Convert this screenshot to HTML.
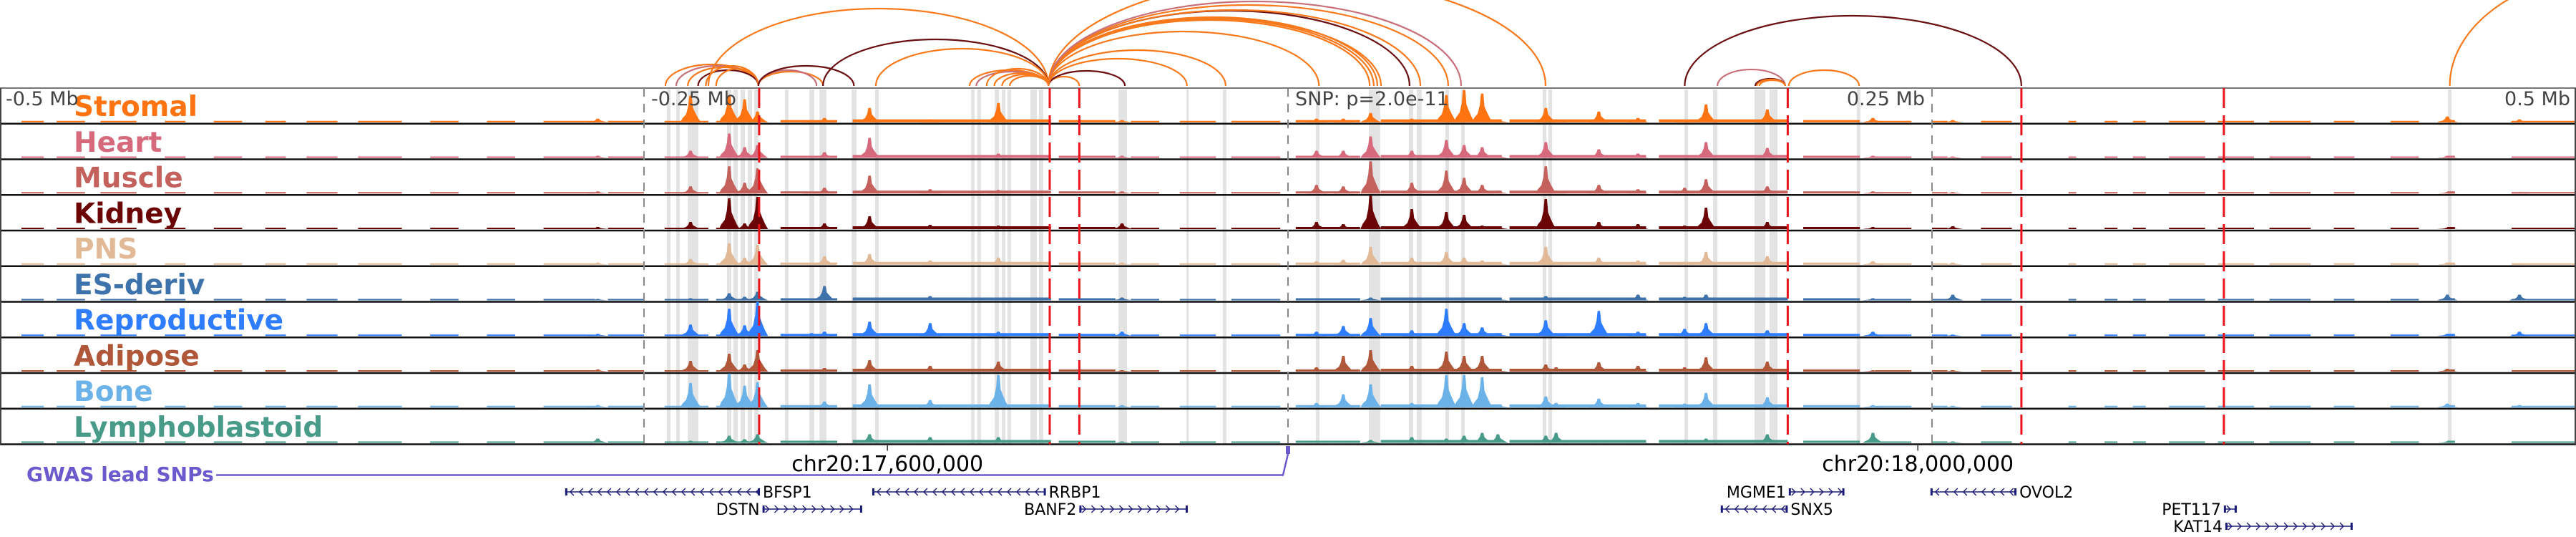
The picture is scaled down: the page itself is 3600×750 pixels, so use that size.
<!DOCTYPE html>
<html><head><meta charset="utf-8">
<style>
html,body{margin:0;padding:0;background:#fff;}
svg{display:block;font-family:"DejaVu Sans","Liberation Sans",sans-serif;}
</style></head>
<body>
<svg id="chart" width="3600" height="750" viewBox="0 0 3600 750" xmlns="http://www.w3.org/2000/svg">
  <g id="arcs"></g>
  <g id="bands"></g>
  <g id="tracks"></g>
  <g id="vlines"></g>
  <g id="axis"></g>
  <g id="genes"></g>
</svg>
<script>
// ---- data (positions in kb relative to lead SNP) ----
const tissues = ["Stromal","Heart","Muscle","Kidney","PNS","ES-deriv","Reproductive","Adipose","Bone","Lymphoblastoid"];
const tissueColors = ["#ff7410","#d66a7c","#c4615c","#6b0505","#e2b996","#3d72aa","#2f7dff","#b0573a","#6bb2e8","#479b88"];
const peakPos = [-268,-232,-217,-211,-206,-185,-180,-162.5,-139,-112.5,-64.5,11,21.4,32,48,61.4,68.3,75.3,81.4,100,104,120.6,135.8,153.9,162.2,186,227,258,450,478];
const hStromal = [5,37,38,32,15,3,6,20,4,27,3,5,5,13,5,38,45,40,4,20,4,15,6,3,25,18,6,3,8,4];
const hHeart   = [3,10,34,15,18,3,8,28,4,6,3,10,10,30,10,25,18,15,4,22,4,12,6,3,22,14,3,2,3,2];
const hMuscle  = [3,10,38,15,35,2,8,25,6,5,3,12,10,45,15,32,22,12,4,38,4,12,6,8,20,10,3,2,2,2];
const hKidney  = [3,10,43,8,45,3,8,18,6,5,8,10,7,47,28,24,20,5,4,42,4,10,7,5,30,10,3,4,2,2];
const hPNS     = [3,8,30,10,28,2,12,15,6,10,3,5,7,25,10,18,10,6,4,25,4,10,6,4,18,12,5,3,3,2];
const hES      = [2,3,10,5,12,2,20,3,6,4,4,2,2,4,2,4,3,3,3,6,3,3,8,5,8,4,3,8,8,8];
const hRepro   = [3,16,38,15,48,4,6,20,18,6,6,6,14,25,8,38,18,12,4,22,4,35,6,10,18,8,6,2,3,6];
const hAdipose = [3,15,25,10,30,3,5,16,8,14,2,6,22,30,8,28,22,22,3,10,6,13,8,6,20,14,2,2,4,2];
const hBone    = [3,34,47,30,35,2,8,32,10,45,3,6,18,32,6,45,45,42,4,15,6,12,6,5,20,14,3,2,5,3];
const hLympho  = [6,3,10,5,12,2,3,12,8,8,2,3,2,4,8,6,10,14,12,10,14,4,3,4,6,12,14,2,2,2];
const heights = [hStromal,hHeart,hMuscle,hKidney,hPNS,hES,hRepro,hAdipose,hBone,hLympho];
const bgStart = [-491.7,-478,-461,-436,-417,-397,-381,-361,-333,-311,-289,-264,-242,-222,-197,-169,-89,-61,-42,-22,3,36,86,144,200,228,250,269,303,317,328,342,361,381,406,428,450,475];
const bgEnd   = [-483,-467,-447,-428,-406,-389,-369,-344,-322,-300,-269,-250,-225,-206,-175,-92,-67,-50,-28,-3,28,83,139,194,222,242,256,281,306,322,333,356,375,397,414,439,453,500];
const bgLevel = [1,1,1,1,1,1,1,1,1,1,1,1,1,1,2,3,2,1,1,1,2,3,3,3,2,1,1,1,1,1,1,1,1,1,1,1,2,1];
const bandStart = [-241.1,-237.5,-233,-217.8,-215.3,-212.5,-209.7,-207.2,-195.3,-185.8,-181.9,-169.4,-160.3,-123,-120.6,-113.9,-111.1,-108.9,-100,-96.7,-65.8,-39.4,-25.3,10.8,31.4,46.9,50,61.1,67.2,98.9,101.1,153.9,165,181.1,186.9,220.8,450.3];
const bandEnd   = [-239.7,-236.1,-228.9,-216.1,-213.6,-210.8,-208,-205.6,-193.9,-183.9,-179.2,-167.5,-158.9,-121.7,-119.2,-112.2,-109.7,-107.5,-97.5,-95,-62.5,-38.6,-23.9,12.2,35.8,48.6,51.9,62.5,68.6,100.3,102.5,155.3,166.7,185.3,190,222.2,451.7];
const redLines = [-205.3,-92.5,-81,194,284.7,363.3];
const grayLines = [-250,0,250];
const arcFrom  = [-241.7,-237.5,-233,-229,-226,-222,-205.6,-205.6,-205.6,-225,-180.5,-160,-123.6,-121,-117,-114,-111,-108,-93,-93,-93,-93,-93,-93,-93,-93,-93,-93,-93,-93,-93,-93,154,166.7,194.4,181.4,182,183,451];
const arcTo    = [-205.6,-205.6,-205.6,-205.6,-205.6,-205.6,-180.5,-183,-168.5,-93,-93,-93,-93,-93,-93,-93,-93,-93,-81,-63.3,-39.2,-24.2,12,31.7,33.3,34.7,36.1,47.2,51.4,62.2,67.2,100,284.7,193,221.7,193,193,193,583];
const arcH     = [30,28,26,22,28,24,20,22,28,108,65,52,22,20,24,18,16,14,13,21,38,50,76,92,94,96,94,105,106,113,118,150,98,23,22,10,9,8,160];
const arcColor = ["o","h","o","k","o","o","o","h","k","o","k","o","o","h","o","o","o","o","o","k","o","o","o","o","o","o","o","k","o","o","h","o","k","h","o","k","o","o","o"];
const geneName  = ["BFSP1","DSTN","RRBP1","BANF2","MGME1","SNX5","OVOL2","PET117","KAT14"];
const geneStart = [-280.6,-204,-161.4,-81,194.4,168,249.4,363.3,363.9];
const geneEnd   = [-205,-165.3,-94,-38.9,216,194,282.8,368.3,413.3];
const geneStrand= [-1,1,-1,1,1,-1,-1,1,1];
const geneRow   = [0,1,0,1,0,1,0,1,2];
const geneLabelLeft = [false,true,false,true,true,false,false,true,true];
const axisTicks = [17600000,18000000];
const axisTickLabels = ["chr20:17,600,000","chr20:18,000,000"];
const snpGenomic = 17755500;

// ---- scales ----
const NS="http://www.w3.org/2000/svg";
const X0=1800, PXKB=3.6;
const xs = kb => X0 + kb*PXKB;
const xg = g => X0 + (g-snpGenomic)/1000*PXKB;
const TOP=123, TH=49.75, NT=tissues.length, BOTTOM=TOP+TH*NT;
const ys = (i,v) => TOP+(i+1)*TH-2 - v;
const arcCol = {o:"#f7791c",h:"#c7707a",k:"#6a0f12"};
function el(tag,attrs,parent){const e=document.createElementNS(NS,tag);for(const k in attrs)e.setAttribute(k,attrs[k]);parent.appendChild(e);return e;}

// arcs
const gA=document.getElementById('arcs');
for(let i=0;i<arcFrom.length;i++){
  const x1=xs(arcFrom[i]),x2=xs(arcTo[i]),r=(x2-x1)/2,h=arcH[i],b=120;
  const p=el('path',{d:`M${x1},${b} A${r},${h} 0 0 1 ${x2},${b}`,fill:"none",stroke:arcCol[arcColor[i]],"stroke-width":2.2},gA);
  
  
}
// bands
const gB=document.getElementById('bands');
for(let i=0;i<bandStart.length;i++){
  const r=el('rect',{x:xs(bandStart[i]),y:TOP+2,width:Math.max(3,xs(bandEnd[i])-xs(bandStart[i])),height:BOTTOM-TOP-3,fill:"#e3e3e3"},gB);
  
  
}
// tracks
const gT=document.getElementById('tracks');
for(let t=0;t<NT;t++){
  const g=el('g',{},gT);
  
  
  const c=tissueColors[t];
  for(let i=0;i<bgStart.length;i++){
    el('rect',{x:xs(bgStart[i]),y:ys(t,bgLevel[i]+1),width:xs(bgEnd[i])-xs(bgStart[i]),height:bgLevel[i]+1,fill:c},g);
  }
  for(let i=0;i<peakPos.length;i++){
    const x=xs(peakPos[i]),h=heights[t][i],b=ys(t,0);
    const d=`M${x-14},${b} L${x-11},${b-h*0.15} L${x-6},${b-h*0.3} L${x-3},${b-h*0.6} L${x-1.5},${b-h} L${x+2},${b-h} L${x+3.5},${b-h*0.55} L${x+7},${b-h*0.35} L${x+11},${b-h*0.15} L${x+15},${b} Z`;
    const p=el('path',{d:d,fill:c},g);
    
    
  }
  const lab=el('text',{x:103,y:TOP+t*TH+39,"font-size":39,"font-weight":"bold",fill:c},g);
  lab.textContent=tissues[t];
  
  
  const ln=el('line',{x1:0,x2:3600,y1:TOP+(t+1)*TH,y2:TOP+(t+1)*TH,stroke:"#111","stroke-width":2.5},g);
  
  
}
el('line',{x1:0,x2:3600,y1:TOP,y2:TOP,stroke:"#777","stroke-width":2},gT);
el('line',{x1:1,x2:1,y1:TOP,y2:BOTTOM,stroke:"#444","stroke-width":2},gT);
el('line',{x1:3599,x2:3599,y1:TOP,y2:BOTTOM,stroke:"#444","stroke-width":2},gT);

// vertical lines
const gV=document.getElementById('vlines');
grayLines.forEach(v=>{const l=el('line',{x1:xs(v),x2:xs(v),y1:TOP,y2:BOTTOM,stroke:"#888","stroke-width":2,"stroke-dasharray":"12 10"},gV);
  
  });
redLines.forEach(v=>{const l=el('line',{x1:xs(v),x2:xs(v),y1:TOP,y2:BOTTOM,stroke:"#e8141a","stroke-width":3,"stroke-dasharray":"28 10"},gV);
  
  });
const offLabels=[["-0.5 Mb",8,"start"],["-0.25 Mb",xs(-250)+10,"start"],["SNP: p=2.0e-11",xs(0)+10,"start"],["0.25 Mb",xs(250)-10,"end"],["0.5 Mb",3592,"end"]];
offLabels.forEach(o=>{const t=el('text',{x:o[1],y:147,"font-size":27,fill:"#444","text-anchor":o[2]},gV);t.textContent=o[0];
  
  });

// axis
const gX=document.getElementById('axis');
axisTicks.forEach((g,i)=>{const x=xg(g);
  el('line',{x1:x,x2:x,y1:BOTTOM,y2:BOTTOM+9,stroke:"#333","stroke-width":1.5},gX);
  const t=el('text',{x:x,y:658,"font-size":30,"text-anchor":"middle",fill:"#000"},gX);t.textContent=axisTickLabels[i];
  
  });
const gw=el('text',{x:37,y:672,"font-size":28,"font-weight":"bold",fill:"#6a5acd"},gX);gw.textContent="GWAS lead SNPs";


const sx=xs(0);
el('path',{d:`M302,663.5 L${sx-7},663.5 L${sx},634`,fill:"none",stroke:"#6a5acd","stroke-width":2.5},gX);
const snp=el('rect',{x:sx-3,y:623,width:6,height:11,fill:"#6a5acd"},gX);



// genes
const gG=document.getElementById('genes');
const rowY=[687,711,735];
for(let i=0;i<geneName.length;i++){
  const g=el('g',{},gG);
  
  
  const x1=xs(geneStart[i]),x2=xs(geneEnd[i]),y=rowY[geneRow[i]],c="#1c1c78";
  el('line',{x1:x1,x2:x2,y1:y,y2:y,stroke:c,"stroke-width":1.6},g);
  for(let x=x1+8;x<x2-4;x+=13){
    const s=geneStrand[i];
    el('path',{d:`M${x-s*4},${y-5} L${x+s*1},${y} L${x-s*4},${y+5}`,fill:"none",stroke:c,"stroke-width":1.4},g);
  }
  el('rect',{x:x1,y:y-5,width:3,height:10,fill:c},g);
  el('rect',{x:x2-3,y:y-5,width:3,height:10,fill:c},g);
  const t=el('text',{x:geneLabelLeft[i]?x1-4:x2+4,y:y+8,"font-size":22,"text-anchor":geneLabelLeft[i]?"end":"start",fill:"#000"},g);
  t.textContent=geneName[i];
}
</script>
</body></html>
